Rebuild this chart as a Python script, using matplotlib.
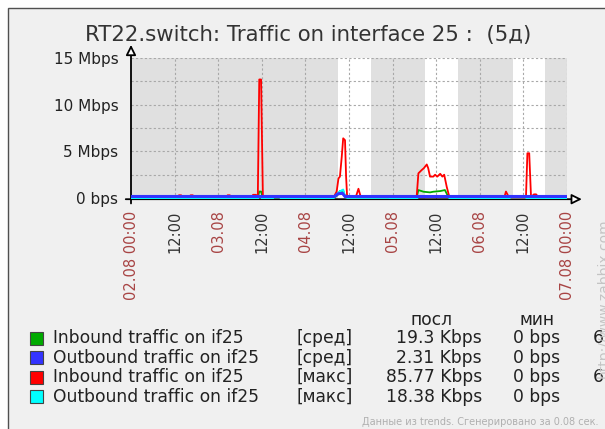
import matplotlib
matplotlib.use("Agg")
import matplotlib.pyplot as plt
import matplotlib.transforms as mtransforms
from matplotlib.patches import Rectangle

# hours since 02.08 00:00, values in Mbps
hours_in_max = [0, 12.8, 13.2, 13.8, 14.2, 16.0, 16.4, 17.0, 17.4, 26.2, 26.6, 27.2, 27.6,
                33.2, 33.6, 34.4, 34.9, 35.3, 35.8, 36.3, 55.7, 56.6, 57.1, 57.5, 58.0,
                58.4, 58.9, 59.2, 59.5, 61.8, 62.6, 63.3, 78.6, 79.1, 80.0, 80.6, 81.4,
                81.8, 82.3, 83.2, 83.7, 84.3, 85.1, 85.7, 86.2, 86.9, 87.5, 88.3, 102.7,
                103.2, 104.1, 108.7, 109.1, 109.6, 110.1, 110.9, 111.5, 112.1, 120]
in_max = [0.02, 0.02, 0.3, 0.3, 0.02, 0.02, 0.3, 0.3, 0.02, 0.02, 0.3, 0.3, 0.02,
          0.02, 0.35, 0.35, 0.1, 12.7, 12.7, 0.1, 0.02, 0.7, 2.1, 2.3, 4.4,
          6.4, 6.2, 2.3, 0.02, 0.02, 1.0, 0.02, 0.02, 2.65, 3.0, 3.2, 3.6,
          3.2, 2.3, 2.3, 2.5, 2.3, 2.6, 2.3, 2.5, 1.2, 0.3, 0.02, 0.02,
          0.7, 0.02, 0.02, 4.8, 4.8, 0.1, 0.4, 0.4, 0.1, 0.02]

hours_in_avg = [0, 34.9, 35.3, 35.8, 36.3, 55.9, 56.8, 57.5, 58.4, 58.9, 59.3,
                78.6, 79.1, 80.5, 82.3, 83.2, 85.1, 86.4, 87.1, 87.5, 120]
in_avg = [0.02, 0.02, 0.7, 0.7, 0.02, 0.02, 0.3, 0.75, 0.8, 0.2, 0.02,
          0.02, 0.86, 0.68, 0.61, 0.68, 0.75, 0.86, 0.32, 0.02, 0.02]

hours_out_avg = [0, 56.0, 57.0, 58.2, 58.9, 120]
out_avg = [0.01, 0.01, 0.3, 0.35, 0.01, 0.01]

hours_out_max = [0, 34.9, 35.5, 36.1, 39.0, 39.3, 41.0, 41.3, 55.7, 56.6, 57.5, 58.4,
                 58.9, 59.5, 71.0, 71.5, 78.6, 79.1, 87.3, 87.8, 104.0, 104.5, 108.6,
                 109.0, 120]
out_max = [0.02, 0.02, 0.3, 0.02, 0.02, 0.15, 0.15, 0.02, 0.02, 0.5, 0.8, 1.0,
           0.2, 0.1, 0.1, 0.02, 0.02, 0.2, 0.2, 0.02, 0.02, 0.15, 0.15,
           0.02, 0.02]

# working hours (white background), days 04.08 - 06.08
work_days = [2, 3, 4]
work_start = 9
work_end = 18

x_ticks = list(range(0, 121, 12))
x_labels = ["02.08 00:00", "12:00", "03.08", "12:00", "04.08", "12:00",
            "05.08", "12:00", "06.08", "12:00", "07.08 00:00"]
y_ticks = [0, 5, 10, 15]
y_labels = ["0 bps", "5 Mbps", "10 Mbps", "15 Mbps"]

legend_names = ["Inbound traffic on if25", "Outbound traffic on if25",
                "Inbound traffic on if25", "Outbound traffic on if25"]
legend_funcs = ["[сред]", "[сред]", "[макс]", "[макс]"]
legend_last = ["19.3 Kbps", "2.31 Kbps", "85.77 Kbps", "18.38 Kbps"]
legend_min = ["0 bps", "0 bps", "0 bps", "0 bps"]
legend_avg = ["62.51 Kbps", "9.1 Kbps", "67.93 Kbps", "9.8 Kbps"]

GREEN = "#00aa00"
BLUE = "#3333ff"
RED = "#ff0000"
CYAN = "#00ffff"

W, H = 605, 429


def fx(px):
    return px / W


def fy(py):
    return 1 - py / H


fig = plt.figure(figsize=(W / 100, H / 100), dpi=100)
fig.patch.set_facecolor("white")
fig.patches.append(Rectangle((fx(8), -0.1), 1.2, fy(8) + 0.1, transform=fig.transFigure,
                             facecolor="#f0f0f0", edgecolor="#505050", lw=1.0, zorder=-10))

ax = fig.add_axes([fx(131), fy(199.2), fx(567) - fx(131), fy(58) - fy(199.2)])
ax.set_facecolor("#e0e0e0")
ax.set_xlim(0, 120)
ax.set_ylim(-0.12, 15)
for d in work_days:
    ax.axvspan(d * 24 + work_start, d * 24 + work_end, color="white", lw=0, zorder=0)

for s in ax.spines.values():
    s.set_visible(False)

# dotted grid
for h in x_ticks[1:]:
    ax.axvline(h, color="#a8a8a8", lw=0.8, ls=(0, (2, 2)), zorder=1)
for v in [2.5, 5, 7.5, 10, 12.5, 15]:
    ax.axhline(v, color="#a8a8a8", lw=0.8, ls=(0, (2, 2)), zorder=1)

up = mtransforms.offset_copy(ax.transData, fig=fig, x=0, y=1.5, units="dots")
down = mtransforms.offset_copy(ax.transData, fig=fig, x=0, y=-0.8, units="dots")
ax.plot(hours_in_avg, in_avg, color=GREEN, lw=1.3, zorder=3)
ax.plot(hours_in_max, in_max, color=RED, lw=1.3, zorder=4)
ax.plot(hours_out_max, out_max, color=CYAN, lw=1.4, zorder=5, transform=down)
ax.plot(hours_out_avg, out_avg, color=BLUE, lw=2.2, zorder=6, transform=up)

# axes with open arrow heads
arrow = dict(arrowstyle="-|>,head_length=0.6,head_width=0.3", fc="white", ec="black",
             lw=1.3, shrinkA=0, shrinkB=0)
ax.annotate("", xy=(0, 1.093), xytext=(0, -0.03), xycoords="axes fraction", arrowprops=arrow)
ax.annotate("", xy=(1.034, 0), xytext=(-0.012, 0), xycoords="axes fraction", arrowprops=arrow)

ax.set_xticks(x_ticks)
ax.set_xticklabels(x_labels, rotation=90, fontsize=10.5, va="top", ha="center")
for lab, txt in zip(ax.get_xticklabels(), x_labels):
    lab.set_color("#333333" if txt == "12:00" else "#a84444")
ax.set_yticks(y_ticks)
ax.set_yticklabels(y_labels, fontsize=11, color="#222222")
ax.tick_params(axis="both", length=0)
ax.tick_params(axis="y", pad=9)
ax.tick_params(axis="x", pad=8)

fig.text(fx(308), fy(41), "RT22.switch: Traffic on interface 25 :  (5д)", fontsize=15.3,
         color="#333333", ha="center", va="baseline")

# legend table
fig.text(fx(432), fy(320), "посл", fontsize=12.3, color="#222222", ha="center", va="center")
fig.text(fx(537), fy(320), "мин", fontsize=12.3, color="#222222", ha="center", va="center")
row_y = [338.3, 357.8, 377.2, 396.7]
for i, col in enumerate([GREEN, BLUE, RED, CYAN]):
    y = fy(row_y[i])
    fig.patches.append(Rectangle((fx(30), y - 6.5 / H), 13 / W, 13 / H, transform=fig.transFigure,
                                 facecolor=col, edgecolor="#444444", lw=0.8))
    fig.text(fx(53), y, legend_names[i], fontsize=12.3, color="#222222", va="center")
    fig.text(fx(297), y, legend_funcs[i], fontsize=12.3, color="#222222", va="center")
    fig.text(fx(482), y, legend_last[i], fontsize=12.3, color="#222222", va="center", ha="right")
    fig.text(fx(513), y, legend_min[i], fontsize=12.3, color="#222222", va="center")
    fig.text(fx(690), y, legend_avg[i], fontsize=12.3, color="#222222", va="center", ha="right")

fig.text(fx(598), fy(422), "Данные из trends. Сгенерировано за 0.08 сек.", fontsize=7,
         color="#b0b0b0", ha="right", va="center")
fig.text(fx(604), fy(298), "http://www.zabbix.com", fontsize=10, color="#c4c4c4",
         rotation=90, ha="center", va="center")

fig.savefig("out.png", dpi=100, facecolor=fig.get_facecolor())
